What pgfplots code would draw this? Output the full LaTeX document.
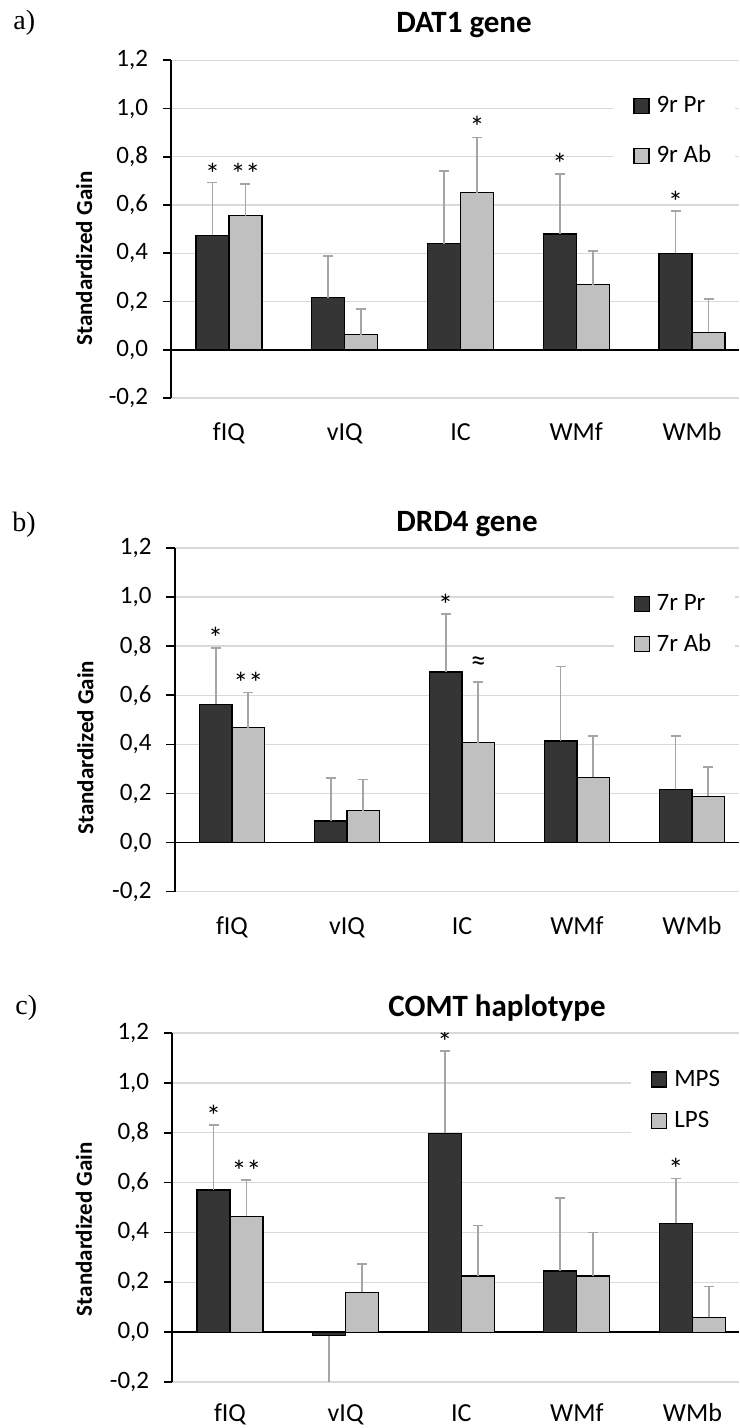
\documentclass[border=0pt]{standalone}
\usepackage{fontspec}
\setmainfont{Carlito}
\newfontfamily\panelfont{Liberation Serif}
\usepackage{pgfplots}
\pgfplotsset{compat=1.18}

\definecolor{darkbar}{HTML}{353535}
\definecolor{lightbar}{HTML}{C0C0C0}
\definecolor{errc}{HTML}{A5A5A5}
\definecolor{gridc}{HTML}{D9D9D9}

\tikzset{sig/.style={anchor=base, yshift=-7pt, font=\fontsize{15}{17}\selectfont, inner sep=0pt}}

\pgfplotsset{
  panel/.style={
    ybar, scale only axis,
    ymin=-0.2, ymax=1.2,
    ytick={-0.2,0,0.2,0.4,0.6,0.8,1.0,1.2},
    xmin=-0.5,
    xtick={0,1,2,3,4}, xticklabels={fIQ,vIQ,IC,WMf,WMb},
    major x tick style={draw=none},
    ymajorgrids, grid style={gridc, line width=0.7pt},
    axis y line*=left, axis x line*=bottom,
    x axis line style={draw=none},
    y axis line style={black, line width=1pt},
    tick align=outside,
    major y tick style={black, line width=0.8pt}, major tick length=4pt,
    extra y ticks={0}, extra y tick labels={},
    extra y tick style={grid style={black, line width=0.8pt}},
    y tick label style={font=\fontsize{12.5}{15}\selectfont, xshift=-4pt,
      /pgf/number format/use comma, /pgf/number format/fixed,
      /pgf/number format/fixed zerofill, /pgf/number format/precision=1,
      /pgf/number format/assume math mode=true},
    x tick label style={font=\fontsize{13}{15}\selectfont, anchor=base, yshift=-17.5pt, inner sep=0pt},
    bar width=0.285,
    every axis y label/.style={rotate=90, anchor=center, font=\bfseries\fontsize{11.5}{13}\selectfont},
    ylabel={Standardized Gain},
    legend cell align=left,
    legend style={draw=none, fill=white, anchor=north west,
      font=\fontsize{12.5}{15}\selectfont, inner xsep=10pt, inner ysep=4pt},
  },
  errstyle/.style={
    error bars/y dir=plus, error bars/y explicit,
    error bars/error bar style={errc, line width=0.9pt},
    error bars/error mark options={errc, line width=0.9pt, mark size=2.5pt, rotate=90}},
  darkplot/.style={fill=darkbar, draw=black, line width=0.6pt, bar shift=-0.1425,
    legend image code/.code={\draw[fill=darkbar, draw=black, line width=0.6pt] (0pt,-3.75pt) rectangle (7.5pt,3.75pt); \path (9pt,0pt);},
    errstyle},
  lightplot/.style={fill=lightbar, draw=black, line width=0.6pt, bar shift=0.1425,
    legend image code/.code={\draw[fill=lightbar, draw=black, line width=0.6pt] (0pt,-3.75pt) rectangle (7.5pt,3.75pt); \path (9pt,0pt);},
    errstyle},
}

\begin{document}
\begin{tikzpicture}
\useasboundingbox (0,0) rectangle (369.5pt,714pt);

% ---------- a) DAT1 ----------
\begin{axis}[panel, at={(85.55pt,515pt)}, anchor=south west,
  width=283.95pt, height=168.85pt, xmax=4.406,
  every axis y label/.append style={at={(rel axis cs:-0.153,0.413)}},
  legend style={at={(rel axis cs:0.778,0.93)}, row sep=11pt}]
\addplot[darkplot] coordinates {(0,0.475)+-(0,0.218) (1,0.216)+-(0,0.171) (2,0.440)+-(0,0.302) (3,0.480)+-(0,0.250) (4,0.400)+-(0,0.174)};
\addlegendentry{9r Pr}
\addplot[lightplot] coordinates {(0,0.556)+-(0,0.132) (1,0.062)+-(0,0.106) (2,0.651)+-(0,0.229) (3,0.270)+-(0,0.140) (4,0.073)+-(0,0.136)};
\addlegendentry{9r Ab}
\node[sig] at (axis cs:-0.1425,0.745) {*};
\node[sig] at (axis cs:0.1425,0.745) {**};
\node[sig] at (axis cs:2.1425,0.936) {*};
\node[sig] at (axis cs:2.8575,0.783) {*};
\node[sig] at (axis cs:3.8575,0.625) {*};
\end{axis}

% ---------- b) DRD4 ----------
\begin{axis}[panel, at={(87.25pt,268.15pt)}, anchor=south west,
  width=282.25pt, height=171.85pt, xmax=4.409,
  every axis y label/.append style={at={(rel axis cs:-0.158,0.419)}},
  legend style={at={(rel axis cs:0.777,0.90)}, row sep=6pt}]
\addplot[darkplot] coordinates {(0,0.563)+-(0,0.231) (1,0.088)+-(0,0.176) (2,0.695)+-(0,0.237) (3,0.414)+-(0,0.303) (4,0.217)+-(0,0.218)};
\addlegendentry{7r Pr}
\addplot[lightplot] coordinates {(0,0.468)+-(0,0.143) (1,0.130)+-(0,0.127) (2,0.407)+-(0,0.246) (3,0.266)+-(0,0.169) (4,0.189)+-(0,0.118)};
\addlegendentry{7r Ab}
\node[sig] at (axis cs:-0.1425,0.848) {*};
\node[sig] at (axis cs:0.1425,0.666) {**};
\node[sig] at (axis cs:1.8575,0.981) {*};
\node[sig] at (axis cs:2.1425,0.756) {≈};
\end{axis}

% ---------- c) COMT ----------
\begin{axis}[panel, at={(86.1pt,23pt)}, anchor=south west,
  width=283.4pt, height=174.5pt, xmax=4.403,
  x tick label style={yshift=2pt},
  every axis y label/.append style={at={(rel axis cs:-0.156,0.438)}},
  legend style={at={(rel axis cs:0.809,0.93)}, row sep=7pt}]
\addplot[darkplot] coordinates {(0,0.570)+-(0,0.262) (2,0.797)+-(0,0.331) (3,0.245)+-(0,0.293) (4,0.437)+-(0,0.179)};
\addlegendentry{MPS}
\addplot[darkplot, forget plot, error bars/y dir=minus] coordinates {(1,-0.015)+-(0,0.300)};
\addplot[lightplot] coordinates {(0,0.464)+-(0,0.145) (1,0.160)+-(0,0.112) (2,0.225)+-(0,0.203) (3,0.225)+-(0,0.175) (4,0.060)+-(0,0.123)};
\addlegendentry{LPS}
\node[sig] at (axis cs:-0.1425,0.881) {*};
\node[sig] at (axis cs:0.1425,0.660) {**};
\node[sig] at (axis cs:1.8575,1.179) {*};
\node[sig] at (axis cs:3.8575,0.669) {*};
\end{axis}

% titles and panel letters
\node[anchor=base, font=\bfseries\fontsize{15.5}{18}\selectfont] at (232pt,697.5pt) {DAT1 gene};
\node[anchor=base, font=\bfseries\fontsize{15.5}{18}\selectfont] at (233.5pt,448.15pt) {DRD4 gene};
\node[anchor=base, font=\bfseries\fontsize{15.5}{18}\selectfont] at (248.5pt,205.5pt) {COMT haplotype};
\node[anchor=base west, inner sep=0pt, font=\panelfont\fontsize{14}{16}\selectfont] at (6.5pt,699pt) {a)};
\node[anchor=base west, inner sep=0pt, font=\panelfont\fontsize{14}{16}\selectfont] at (6pt,448.15pt) {b)};
\node[anchor=base west, inner sep=0pt, font=\panelfont\fontsize{14}{16}\selectfont] at (7.5pt,206.5pt) {c)};
\end{tikzpicture}
\end{document}
